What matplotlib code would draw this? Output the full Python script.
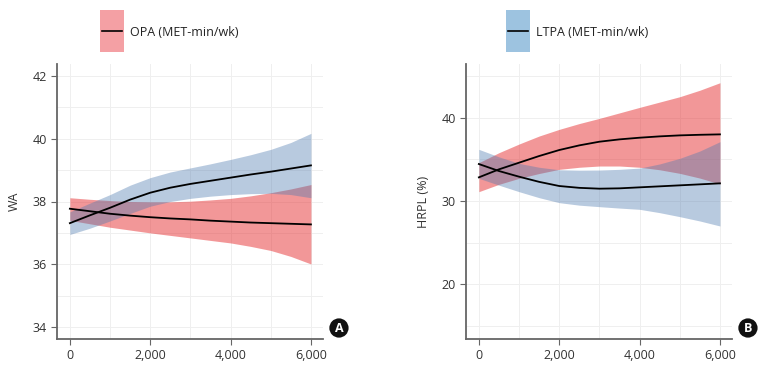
import matplotlib
matplotlib.use('Agg')
import matplotlib.pyplot as plt
from matplotlib.patches import Rectangle
from matplotlib.lines import Line2D

plt.rcParams['font.family'] = 'Open Sans'

# x grid of the spline curves (MET-min/wk)
met = [0, 500, 1000, 1500, 2000, 2500, 3000, 3500, 4000, 4500, 5000, 5500, 6000]

# panel A: WA
wa_opa_mid = [37.77, 37.69, 37.61, 37.55, 37.50, 37.46, 37.43, 37.39, 37.36, 37.33, 37.31, 37.29, 37.27]
wa_opa_hi = [38.12, 38.07, 38.03, 38.00, 37.99, 37.99, 38.01, 38.05, 38.10, 38.18, 38.28, 38.40, 38.54]
wa_opa_lo = [37.40, 37.29, 37.18, 37.09, 37.00, 36.92, 36.84, 36.76, 36.68, 36.57, 36.44, 36.25, 36.01]
wa_ltpa_mid = [37.31, 37.56, 37.80, 38.06, 38.28, 38.44, 38.56, 38.66, 38.76, 38.86, 38.95, 39.05, 39.15]
wa_ltpa_hi = [37.67, 37.95, 38.22, 38.52, 38.76, 38.94, 39.07, 39.20, 39.34, 39.49, 39.66, 39.88, 40.17]
wa_ltpa_lo = [36.95, 37.15, 37.38, 37.62, 37.85, 38.00, 38.10, 38.17, 38.22, 38.25, 38.26, 38.22, 38.12]

# panel B: HRPL (%)
hr_opa_mid = [32.84, 33.80, 34.60, 35.40, 36.12, 36.68, 37.12, 37.40, 37.60, 37.76, 37.88, 37.95, 38.00]
hr_opa_hi = [34.60, 35.80, 36.84, 37.80, 38.60, 39.30, 39.92, 40.58, 41.24, 41.88, 42.52, 43.30, 44.20]
hr_opa_lo = [31.12, 32.00, 32.72, 33.30, 33.80, 34.05, 34.20, 34.20, 34.05, 33.75, 33.32, 32.75, 32.04]
hr_ltpa_mid = [34.44, 33.60, 32.92, 32.30, 31.80, 31.58, 31.48, 31.52, 31.64, 31.76, 31.88, 32.00, 32.12]
hr_ltpa_hi = [36.20, 35.30, 34.52, 34.05, 33.75, 33.70, 33.72, 33.80, 33.95, 34.45, 35.12, 36.00, 37.12]
hr_ltpa_lo = [32.72, 31.90, 31.12, 30.40, 29.80, 29.50, 29.32, 29.15, 29.00, 28.60, 28.12, 27.60, 27.00]

red = '#e41a1c'
blue = '#4f7bb0'

W, H = 766, 371
fig = plt.figure(figsize=(W/100, H/100), dpi=100)
axA = fig.add_axes([57/W, 1-339/H, 266/W, 275/H])
axB = fig.add_axes([466/W, 1-339/H, 266/W, 275/H])


def style(ax, ylim, yticks, yminor, label, tag):
    ax.set_xlim(-320, 6300)
    ax.set_ylim(*ylim)
    ax.set_xticks([0, 2000, 4000, 6000])
    ax.set_xticklabels(['0', '2,000', '4,000', '6,000'])
    ax.set_xticks(range(0, 7000, 1000), minor=True)
    ax.set_yticks(yticks)
    ax.set_yticks(yminor, minor=True)
    ax.grid(which='both', color='#efefef', lw=0.7, zorder=0)
    ax.set_axisbelow(True)
    for s in ['top', 'right']:
        ax.spines[s].set_visible(False)
    for s in ['left', 'bottom']:
        ax.spines[s].set_color('#666666')
        ax.spines[s].set_linewidth(1.3)
    ax.tick_params(which='major', length=4, color='#666666', labelsize=9, labelcolor='#333333')
    ax.tick_params(which='minor', length=0)
    ax.set_ylabel(label, fontsize=9, color='#333333')
    ax.yaxis.set_label_coords(-0.137, 0.5)
    ax.text(1.06, 0.04, tag, transform=ax.transAxes, ha='center', va='center',
            color='white', fontsize=9, fontweight='bold',
            bbox=dict(boxstyle='circle,pad=0.25', fc='#111111', ec='none'))


# A
axA.fill_between(met, wa_opa_lo, wa_opa_hi, color=red, alpha=0.45, lw=0)
axA.fill_between(met, wa_ltpa_lo, wa_ltpa_hi, color=blue, alpha=0.4, lw=0)
axA.plot(met, wa_opa_mid, color='black', lw=1.3)
axA.plot(met, wa_ltpa_mid, color='black', lw=1.3)
style(axA, (33.62, 42.38), [34, 36, 38, 40, 42], range(34, 43), 'WA', 'A')

# B
axB.fill_between(met, hr_opa_lo, hr_opa_hi, color=red, alpha=0.45, lw=0)
axB.fill_between(met, hr_ltpa_lo, hr_ltpa_hi, color=blue, alpha=0.4, lw=0)
axB.plot(met, hr_opa_mid, color='black', lw=1.3)
axB.plot(met, hr_ltpa_mid, color='black', lw=1.3)
style(axB, (13.43, 46.45), [20, 30, 40], range(15, 46, 5), 'HRPL (%)', 'B')

# legend keys drawn by hand: tall colour block with a black line through it
for x0, col, txt in [(100, '#f4a0a4', 'OPA (MET-min/wk)'), (506, '#9dc3e0', 'LTPA (MET-min/wk)')]:
    fig.add_artist(Rectangle((x0/W, 1-52/H), 24/W, 42/H, transform=fig.transFigure,
                             fc=col, ec='none'))
    fig.add_artist(Line2D([(x0+2)/W, (x0+22)/W], [1-31/H, 1-31/H], transform=fig.transFigure,
                          color='black', lw=1.2))
    fig.text((x0+30)/W, 1-32/H, txt, fontsize=9, color='#222222', ha='left', va='center')

fig.savefig('out.png', dpi=100)
